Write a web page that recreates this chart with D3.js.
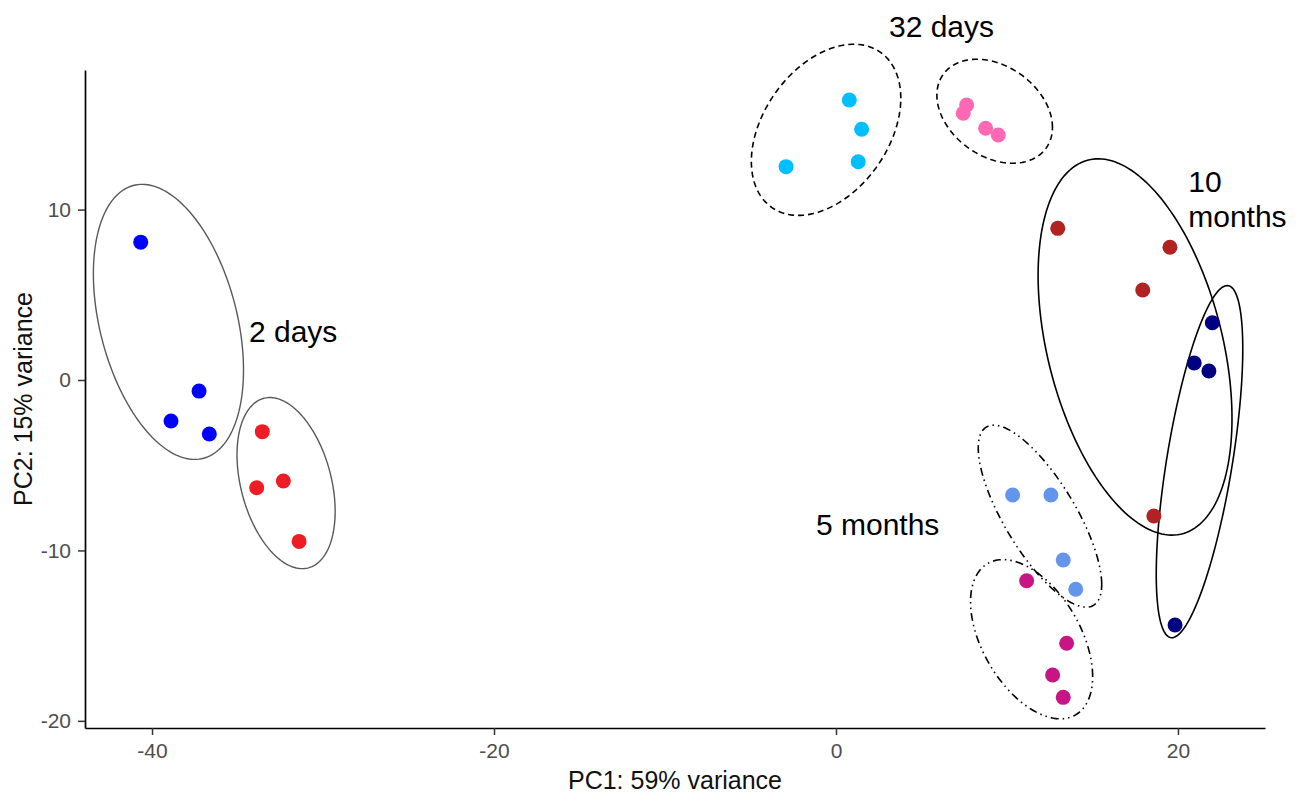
<!DOCTYPE html>
<html>
<head>
<meta charset="utf-8">
<script src="https://cdn.jsdelivr.net/npm/d3@7"></script>
<style>
  body { margin: 0; background: #fff; }
  svg { display: block; font-family: "Liberation Sans", Arial, sans-serif; }
</style>
</head>
<body>
<svg id="chart" width="1301" height="794"></svg>
<script>
// sample groups (condition x age)
const groups = ["2d_A", "2d_B", "32d_A", "32d_B", "10m_A", "10m_B", "5m_A", "5m_B"];
const groupColors = ["#0000FF", "#EE1C24", "#00BFFF", "#FF69B4", "#B22222", "#000080", "#6495ED", "#C71585"];

const pc1 = [
    [-40.66, -38.89, -37.25, -36.65],
    [-33.55, -33.88, -32.32, -31.40],
    [0.78, 1.50, 1.30, -2.92],
    [7.64, 7.44, 8.75, 9.49],
    [12.97, 19.53, 17.94, 18.59],
    [22.01, 20.95, 21.81, 19.83],
    [10.33, 12.57, 13.29, 14.02],
    [11.15, 13.49, 12.67, 13.29]
];
const pc2 = [
    [8.09, -2.41, -0.65, -3.17],
    [-3.03, -6.32, -5.93, -9.47],
    [16.43, 14.71, 12.81, 12.52],
    [16.14, 15.65, 14.77, 14.38],
    [8.90, 7.79, 5.28, -7.98],
    [3.36, 1.00, 0.53, -14.38],
    [-6.75, -6.75, -10.56, -12.28],
    [-11.78, -15.45, -17.31, -18.62]
];

// ellipse per group: centre, half extents, correlation (data units)
const ellCx = [-39.04, -32.16, -0.58, 9.28, 17.49, 21.26, 11.93, 11.44];
const ellCy = [3.41, -6.05, 14.68, 15.77, 1.94, -4.79, -7.99, -15.21];
const ellRx = [4.39, 2.87, 4.37, 3.38, 5.67, 2.53, 3.61, 3.57];
const ellRy = [8.07, 5.02, 5.02, 3.05, 11.04, 10.33, 5.34, 4.67];
const ellRho = [-0.35, -0.33, 0.37, -0.31, -0.38, 0.64, -0.75, -0.47];
const ellStroke = ["#595959", "#595959", "#000", "#000", "#000", "#000", "#000", "#000"];
const ellDash = [null, null, "6,4", "6,4", null, null, "8,4,1.5,4,1.5,4", "8,4,1.5,4,1.5,4"];

const xTicks = [-40, -20, 0, 20];
const yTicks = [-20, -10, 0, 10];

const labelText = ["2 days", "32 days", "10", "months", "5 months"];
const labelX = [-34.33, 3.1, 20.6, 20.6, -1.17];
const labelY = [2.23, 20.13, 11.03, 8.98, -9.1];

let svg = d3.select("#chart");
let mLeft = 85, mRight = 1265, mTop = 70, mBottom = 728;

let x = d3.scaleLinear().domain([-43.92, 25.09]).range([mLeft, mRight]);
let y = d3.scaleLinear().domain([-20.42, 18.19]).range([mBottom, mTop]);

// axes
let xAxis = svg.append("g")
    .attr("transform", "translate(0," + mBottom + ")")
    .call(d3.axisBottom(x).tickValues(xTicks).tickSize(7).tickSizeOuter(0).tickPadding(8));
let yAxis = svg.append("g")
    .attr("transform", "translate(" + mLeft + ",0)")
    .call(d3.axisLeft(y).tickValues(yTicks).tickSize(7).tickSizeOuter(0).tickPadding(7));

[xAxis, yAxis].forEach(function (a) {
    a.attr("font-family", null).attr("font-size", null);
    a.select(".domain").attr("stroke", "#000").attr("stroke-width", 1.7);
    a.selectAll(".tick line").attr("stroke", "#333").attr("stroke-width", 1.5);
    a.selectAll(".tick text")
        .attr("fill", "#4D4D4D")
        .style("font-size", "21px")
        .text(function (d) { return String(d); });
});

svg.append("text")
    .attr("x", (mLeft + mRight) / 2)
    .attr("y", 789)
    .attr("text-anchor", "middle")
    .style("font-size", "25px")
    .attr("fill", "#111")
    .text("PC1: 59% variance");

svg.append("text")
    .attr("transform", "translate(32," + ((mTop + mBottom) / 2) + ") rotate(-90)")
    .attr("text-anchor", "middle")
    .style("font-size", "25px")
    .attr("fill", "#111")
    .text("PC2: 15% variance");

// ellipses
let line = d3.line()
    .x(function (d) { return x(d[0]); })
    .y(function (d) { return y(d[1]); })
    .curve(d3.curveLinearClosed);

let angles = d3.range(0, 2 * Math.PI, Math.PI / 90);

groups.forEach(function (g, i) {
    let s = Math.sqrt(1 - ellRho[i] * ellRho[i]);
    let pts = angles.map(function (t) {
        return [
            ellCx[i] + ellRx[i] * Math.cos(t),
            ellCy[i] + ellRy[i] * (ellRho[i] * Math.cos(t) + s * Math.sin(t))
        ];
    });
    svg.append("path")
        .attr("d", line(pts))
        .attr("fill", "none")
        .attr("stroke", ellStroke[i])
        .attr("stroke-width", i < 2 ? 1.4 : 1.6)
        .attr("stroke-dasharray", ellDash[i]);
});

// points
groups.forEach(function (g, i) {
    svg.append("g")
        .selectAll("circle")
        .data(d3.zip(pc1[i], pc2[i]))
        .enter()
        .append("circle")
        .attr("cx", function (d) { return x(d[0]); })
        .attr("cy", function (d) { return y(d[1]); })
        .attr("r", 7.5)
        .attr("fill", groupColors[i]);
});

// group labels
svg.append("g")
    .selectAll("text")
    .data(labelText)
    .enter()
    .append("text")
    .attr("x", function (d, i) { return x(labelX[i]); })
    .attr("y", function (d, i) { return y(labelY[i]); })
    .style("font-size", "30px")
    .attr("fill", "#000")
    .text(function (d) { return d; });
</script>
</body>
</html>
